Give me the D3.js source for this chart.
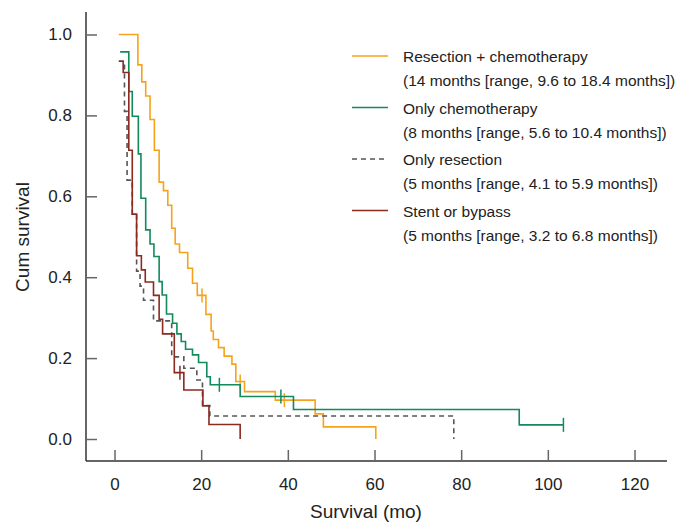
<!DOCTYPE html>
<html>
<head>
<meta charset="utf-8">
<script src="https://cdn.jsdelivr.net/npm/d3@7"></script>
<style>
  body { margin: 0; background: #fff; }
  svg { font-family: "Liberation Sans Narrow", "Arial Narrow", "Liberation Sans", sans-serif; }
  .tick text { font-size: 17px; fill: #222; }
  .legenda text { font-size: 15.5px; fill: #222; }
  .titulo { font-size: 19px; fill: #222; }
</style>
</head>
<body>
<svg id="grafico"></svg>
<script>
// grupos e textos da legenda
const grupos = ['Resection + chemotherapy', 'Only chemotherapy', 'Only resection', 'Stent or bypass']
const medianas = [
  '(14 months [range, 9.6 to 18.4 months])',
  '(8 months [range, 5.6 to 10.4 months])',
  '(5 months [range, 4.1 to 5.9 months])',
  '(5 months [range, 3.2 to 6.8 months])'
]

// curvas de Kaplan-Meier (tempo em meses, sobrevida acumulada)
const tempoRes = [1.0, 5.4, 6.3, 7.2, 8.2, 9.2, 10.3, 11.3, 12.3, 13.2, 14.0, 15.0, 16.9, 18.0, 19.1, 21.1, 22.3, 22.8, 24.0, 25.3, 27.1, 28.0, 30.0, 37.1, 46.3, 48.2, 60.3]
const survRes  = [1.0, 0.925, 0.883, 0.848, 0.79, 0.714, 0.635, 0.614, 0.578, 0.521, 0.482, 0.461, 0.422, 0.385, 0.355, 0.308, 0.267, 0.246, 0.226, 0.205, 0.185, 0.142, 0.117, 0.096, 0.062, 0.030, 0.0]
const censRes  = [20.2, 29.0, 39.2]

const tempoQuimio = [1.3, 3.3, 4.1, 5.5, 6.1, 7.2, 8.2, 9.1, 10.3, 11.0, 12.0, 13.4, 14.4, 15.4, 16.4, 18.0, 19.4, 21.3, 22.1, 29.0, 41.3, 93.4, 103.6]
const survQuimio  = [0.957, 0.859, 0.798, 0.705, 0.595, 0.517, 0.482, 0.451, 0.389, 0.356, 0.309, 0.286, 0.26, 0.241, 0.222, 0.208, 0.189, 0.154, 0.134, 0.105, 0.073, 0.035, 0.035]
const censQuimio  = [24.2, 38.4, 103.6]

const tempoCir = [1.0, 2.3, 2.9, 4.1, 5.1, 5.9, 6.7, 9.0, 13.2, 16.0, 19.0, 20.3, 22.0, 78.3]
const survCir  = [0.934, 0.81, 0.64, 0.556, 0.415, 0.378, 0.343, 0.292, 0.203, 0.175, 0.146, 0.083, 0.057, 0.0]
const censCir  = []

const tempoStent = [1.0, 2.0, 3.3, 4.1, 5.1, 6.2, 7.1, 9.0, 10.3, 11.1, 13.8, 16.0, 20.4, 21.8, 29.0]
const survStent  = [0.934, 0.906, 0.714, 0.556, 0.453, 0.418, 0.388, 0.355, 0.296, 0.26, 0.164, 0.121, 0.082, 0.036, 0.0]
const censStent  = [15.1]

const ticksX = [0, 20, 40, 60, 80, 100, 120]
const ticksY = [0, 0.2, 0.4, 0.6, 0.8, 1.0]

const series = [
  {nome: grupos[0], tempo: tempoRes, surv: survRes, cens: censRes, cor: '#f7a21b', traco: null},
  {nome: grupos[1], tempo: tempoQuimio, surv: survQuimio, cens: censQuimio, cor: '#138a5b', traco: null},
  {nome: grupos[2], tempo: tempoCir, surv: survCir, cens: censCir, cor: '#555555', traco: '5,4'},
  {nome: grupos[3], tempo: tempoStent, surv: survStent, cens: censStent, cor: '#8a2a20', traco: null}
]

const largura = 677, altura = 523

let svg = d3.select('#grafico')
  .attr('width', largura)
  .attr('height', altura)

let fnX = d3.scaleLinear().domain([0, 120]).range([114.5, 634.5])
let fnY = d3.scaleLinear().domain([0, 1]).range([439, 34.5])

// eixos com os ticks para dentro
let eixoX = d3.axisBottom(fnX).tickValues(ticksX).tickSize(-11).tickPadding(17).tickFormat(d3.format('d'))
let gx = svg.append('g').attr('transform', 'translate(0,461)').call(eixoX)
gx.select('.domain').attr('d', 'M86,0H667').attr('stroke', '#333').attr('stroke-width', 1.5)
gx.selectAll('.tick line').attr('stroke', '#666').attr('stroke-width', 1.5)

let eixoY = d3.axisLeft(fnY).tickValues(ticksY).tickSize(-11).tickPadding(14).tickFormat(d3.format('.1f'))
let gy = svg.append('g').attr('transform', 'translate(86,0)').call(eixoY)
gy.select('.domain').attr('d', 'M0,12V461').attr('stroke', '#333').attr('stroke-width', 1.5)
gy.selectAll('.tick line').attr('stroke', '#666').attr('stroke-width', 1.5)

// curvas em degrau
let linha = d3.line()
  .x(d => fnX(d[0]))
  .y(d => fnY(d[1]))
  .curve(d3.curveStepAfter)

// valor da curva num tempo (para as marcas de censura)
function survEm(s, t) {
  let v = s.surv[0]
  s.tempo.forEach((tt, i) => { if (tt <= t) v = s.surv[i] })
  return v
}

let plot = svg.append('g')
series.forEach(s => {
  let pts = s.tempo.map((t, i) => [t, s.surv[i]])
  plot.append('path')
    .attr('d', linha(pts))
    .attr('fill', 'none')
    .attr('stroke', s.cor)
    .attr('stroke-width', 1.6)
    .attr('stroke-dasharray', s.traco)

  plot.selectAll(null).data(s.cens).enter().append('line')
    .attr('x1', d => fnX(d)).attr('x2', d => fnX(d))
    .attr('y1', d => fnY(survEm(s, d)) - 7)
    .attr('y2', d => fnY(survEm(s, d)) + 7)
    .attr('stroke', s.cor)
    .attr('stroke-width', 1.5)
})

// legenda
let leg = svg.append('g').attr('class', 'legenda')
series.forEach((s, i) => {
  let y0 = 56 + i * 51.5
  leg.append('line')
    .attr('x1', 352).attr('x2', 388)
    .attr('y1', y0).attr('y2', y0)
    .attr('stroke', s.cor)
    .attr('stroke-width', 1.5)
    .attr('stroke-dasharray', s.traco)
  leg.append('text').attr('x', 403).attr('y', y0 + 6).text(s.nome)
  leg.append('text').attr('x', 403).attr('y', y0 + 30).text(medianas[i])
})

// títulos
svg.append('text')
  .attr('class', 'titulo')
  .attr('x', 366).attr('y', 518)
  .attr('text-anchor', 'middle')
  .text('Survival (mo)')

svg.append('text')
  .attr('class', 'titulo')
  .attr('transform', 'translate(29,' + 237 + ') rotate(-90)')
  .attr('text-anchor', 'middle')
  .text('Cum survival')
</script>
</body>
</html>
